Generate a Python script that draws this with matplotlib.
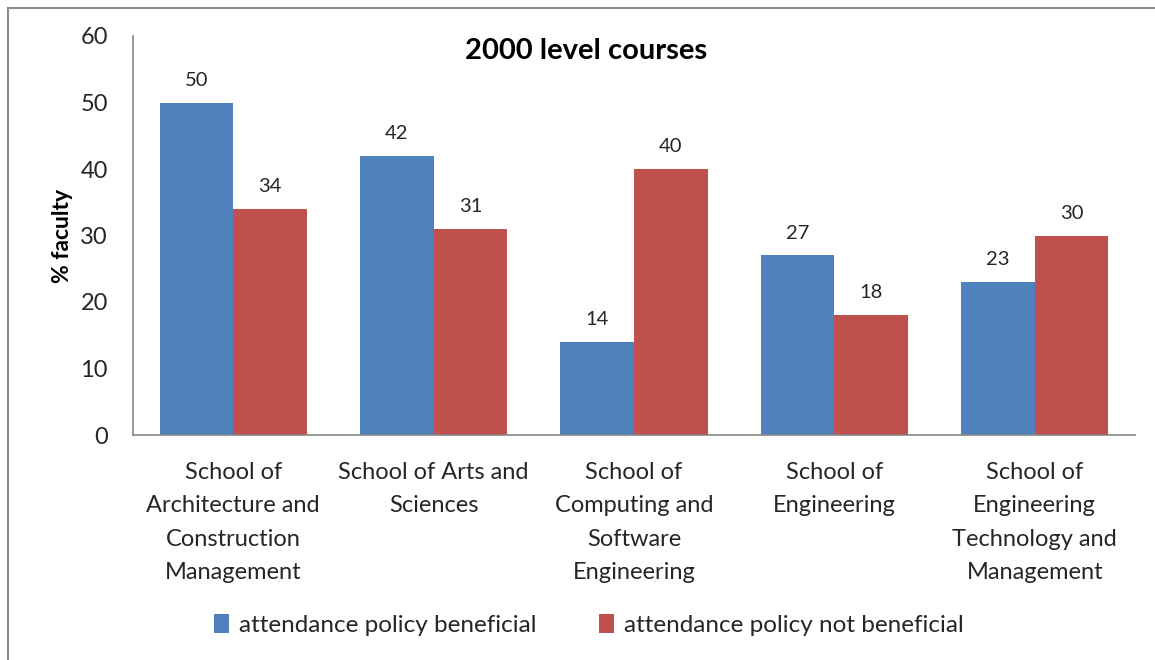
import numpy as np
import matplotlib
matplotlib.use('Agg')
import matplotlib.pyplot as plt
from matplotlib.patches import Rectangle

# Datos
categories = ['School of\nArchitecture and\nConstruction\nManagement',
              'School of Arts and\nSciences',
              'School of\nComputing and\nSoftware\nEngineering',
              'School of\nEngineering',
              'School of\nEngineering\nTechnology and\nManagement']
beneficial = [50, 42, 14, 27, 23]
not_beneficial = [34, 31, 40, 18, 30]
series_names = ['attendance policy beneficial', 'attendance policy not beneficial']
y_ticks = [0, 10, 20, 30, 40, 50, 60]

plt.rcParams.update({'font.family': ['Lato', 'DejaVu Sans']})

blue = '#4F81BD'
red = '#C0504D'
axis_col = '#868686'
text_col = '#262626'

fig = plt.figure(figsize=(11.55, 6.6), dpi=100)
ax = fig.add_axes([133/1155, 1-435/660, (1135-133)/1155, (435-36)/660])

# borde de la figura
fig.patches.append(Rectangle((8/1155, -0.05), 1.1, 1-8/660+0.05,
                             transform=fig.transFigure, fill=False,
                             edgecolor='#8c8c8c', linewidth=1.5))

x = np.arange(len(categories))
w = 0.367
b1 = ax.bar(x - w/2, beneficial, w, color=blue, label=series_names[0])
b2 = ax.bar(x + w/2, not_beneficial, w, color=red, label=series_names[1])

for bars, vals in [(b1, beneficial), (b2, not_beneficial)]:
    for rect, v in zip(bars, vals):
        ax.annotate(str(v), (rect.get_x() + rect.get_width()/2, v),
                    xytext=(0, 10), textcoords='offset points',
                    ha='center', va='bottom', fontsize=14.5, color=text_col)

ax.set_xlim(-0.5, len(categories) - 0.5)
ax.set_ylim(0, 60)
ax.set_yticks(y_ticks)
ax.set_xticks(x)
ax.set_xticklabels(categories, fontsize=17, color=text_col, linespacing=1.72)
ax.tick_params(axis='x', length=0, pad=19.5)
ax.tick_params(axis='y', length=0, pad=18, labelsize=17, labelcolor=text_col)
for s in ['top', 'right']:
    ax.spines[s].set_visible(False)
for s in ['left', 'bottom']:
    ax.spines[s].set_color(axis_col)
    ax.spines[s].set_linewidth(1.2)

ax.set_ylabel('% faculty', fontsize=16.5, fontweight='bold', color='black', labelpad=5)
ax.text(0.452, 0.963, '2000 level courses', transform=ax.transAxes,
        ha='center', va='center', fontsize=21, fontweight='bold', color='black')

leg = fig.legend(loc='center', bbox_to_anchor=(589/1155, 1-625/660), ncol=2,
                 frameon=False, fontsize=17.5, handlelength=0.6, handleheight=0.8,
                 handletextpad=0.4, columnspacing=2.6, labelcolor=text_col)

fig.savefig('out.png', dpi=100)
